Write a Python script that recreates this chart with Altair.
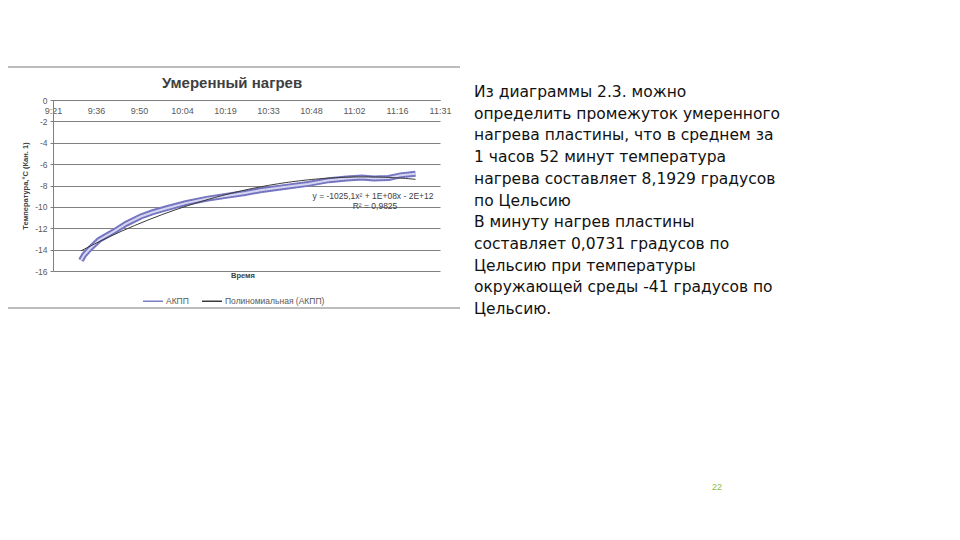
import altair as alt
import pandas as pd

# ---- data ----
times = ["9:31", "9:32", "9:34", "9:37", "9:42", "9:46", "9:51", "9:55", "10:00",
         "10:06", "10:13", "10:20", "10:26", "10:31", "10:39", "10:47", "10:54",
         "11:00", "11:05", "11:09", "11:14", "11:18", "11:23"]
temps = [-15.0, -14.5, -13.9, -13.1, -12.3, -11.6, -10.9, -10.5, -10.1,
         -9.65, -9.25, -8.95, -8.7, -8.45, -8.15, -7.85, -7.5,
         -7.35, -7.25, -7.35, -7.3, -7.05, -6.9]
# x ticks every 0.01 day (14.4 min) from 9:21:36, in minutes after midnight
x_ticks = [561.6, 576.0, 590.4, 604.8, 619.2, 633.6, 648.0, 662.4, 676.8, 691.2]
y_ticks = [0, -2, -4, -6, -8, -10, -12, -14, -16]
series_names = ["АКПП", "Полиномиальная (АКПП)"]

chart_title = "Умеренный нагрев"
y_title = "Температура,°С (Кан. 1)"
x_title = "Время"
equation = "y = -1025,1x² + 1E+08x - 2E+12"
r_squared = "R² = 0,9825"
body_lines = [
    "Из диаграммы 2.3. можно",
    "определить промежуток умеренного",
    "нагрева пластины, что в среднем за",
    "1 часов 52 минут температура",
    "нагрева составляет 8,1929 градусов",
    "по Цельсию",
    "В минуту нагрев пластины",
    "составляет 0,0731 градусов по",
    "Цельсию при температуры",
    "окружающей среды -41 градусов по",
    "Цельсию.",
]
page_number = "22"

def to_minutes(s):
    h, m = s.split(":")
    return int(h) * 60 + int(m)

df = pd.DataFrame({
    "minute": [to_minutes(t) for t in times],
    "temp": temps,
    "series": series_names[0],
})
one = pd.DataFrame({"k": [0]})

W, H = 387, 171
FONT = "Liberation Sans"
GRAY = "#595959"

label_expr = ("floor(datum.value/60) + ':' + (floor(datum.value % 60) < 10 ? '0' : '')"
              " + floor(datum.value % 60)")

x_enc = alt.X("minute:Q",
              scale=alt.Scale(domain=[x_ticks[0], x_ticks[-1]], nice=False, zero=False),
              axis=alt.Axis(orient="bottom", offset=-H, values=x_ticks, labelExpr=label_expr,
                            title=None, grid=False, domainColor="#808080", ticks=False,
                            labelPadding=6, labelFontSize=9, labelColor=GRAY,
                            labelFont=FONT, labelFlush=False, labelOverlap=False))
y_enc = alt.Y("temp:Q",
              scale=alt.Scale(domain=[-16, 0], nice=False),
              axis=alt.Axis(values=y_ticks, tickCount=9, labelExpr="'' + datum.value",
                            title=y_title, labelOverlap=False,
                            titleFontSize=7.5, titleFont=FONT, titleFontWeight="bold",
                            titleColor="#404040", titleX=-28, titleY=H / 2, titleAngle=270,
                            titleBaseline="middle", titleAlign="center",
                            grid=True, gridColor="#808080", gridWidth=1,
                            domainColor="#808080", tickColor="#808080", tickSize=3,
                            labelPadding=3, labelFontSize=8.5, labelColor=GRAY, labelFont=FONT))
color_enc = alt.Color("series:N",
                      scale=alt.Scale(domain=series_names, range=["#7c7cc6", "#3a3a3a"]),
                      legend=alt.Legend(orient="none", legendX=89, legendY=190,
                                        direction="horizontal", title=None,
                                        labelFontSize=8.5, labelFont=FONT, labelColor=GRAY,
                                        symbolType="stroke", symbolSize=400,
                                        symbolStrokeWidth=1.5, columnPadding=10,
                                        labelOffset=2))

base = alt.Chart(df)
band_outer = base.mark_line(strokeWidth=6).encode(x=x_enc, y=y_enc, color=color_enc)
band_hatch = base.mark_line(strokeWidth=5, strokeDash=[1, 1.5], color="#6a6ab8").encode(
    x=x_enc, y=y_enc)
band_inner = base.mark_line(strokeWidth=2, color="#d6d6f2").encode(x=x_enc, y=y_enc)
trend = base.transform_regression("minute", "temp", method="poly", order=2).transform_calculate(
    series="'" + series_names[1] + "'"
).mark_line(strokeWidth=1).encode(x=x_enc, y=y_enc, color=color_enc)

def txt(text, x, y, size, weight="normal", color="#404040", align="center",
        baseline="middle", font=FONT, line_height=None):
    kw = dict(text=text, fontSize=size, fontWeight=weight, color=color, align=align,
              baseline=baseline, font=font)
    if line_height:
        kw["lineHeight"] = line_height
    return alt.Chart(one).mark_text(**kw).encode(x=alt.value(x), y=alt.value(y))

title_t = txt(chart_title, 179, -12, 15, weight="bold", color="#404040", baseline="alphabetic")
xtitle_t = txt(x_title, 190, 176, 7.5, weight="bold")
eq_t = txt(equation, 320, 96, 8.5)
r2_t = txt(r_squared, 322, 106, 8.5)
body_t = txt(body_lines, 421, -3, 15.5, color="#111111", align="left",
             baseline="alphabetic", font="DejaVu Sans", line_height=21.7)
page_t = txt(page_number, 664, 387, 9, color="#8fbc45")

frame_top = alt.Chart(one).mark_rule(color="#a6a6a6", strokeWidth=1.5).encode(
    x=alt.value(-48), x2=alt.value(407), y=alt.value(-33))
frame_bot = alt.Chart(one).mark_rule(color="#a6a6a6", strokeWidth=1.5).encode(
    x=alt.value(-48), x2=alt.value(407), y=alt.value(208))

chart = alt.layer(
    frame_top, frame_bot, band_outer, band_hatch, band_inner, trend,
    title_t, xtitle_t, eq_t, r2_t, body_t, page_t
).properties(
    width=W, height=H,
    autosize=alt.AutoSizeParams(type="none"),
    padding={"left": 45, "top": 92, "right": 512, "bottom": 257},
    background="white",
).configure_view(stroke=None)

chart.save("out.html", embed_options={"renderer": "svg", "actions": False})
